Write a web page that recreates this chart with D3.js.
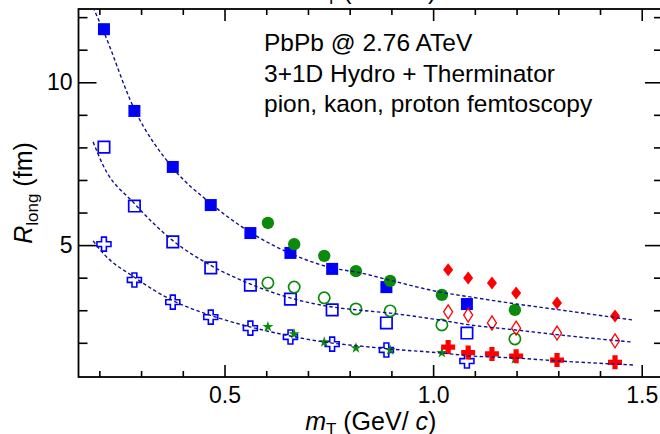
<!DOCTYPE html>
<html>
<head>
<meta charset="utf-8">
<script src="https://cdn.jsdelivr.net/npm/d3@7"></script>
<style>
  body { margin: 0; background: #fff; }
  svg { display: block; font-family: "Liberation Sans", Arial, Helvetica, sans-serif; }
</style>
</head>
<body>
<div id="graph"></div>
<script>
// Chart values
var pionMt = [0.211, 0.284, 0.376, 0.467, 0.562, 0.658, 0.758, 0.888, 1.081];
var pionHigh = [11.63, 9.12, 7.40, 6.23, 5.37, 4.76, 4.27, 3.71, 3.19];
var pionMid = [8.01, 6.20, 5.10, 4.30, 3.77, 3.34, 3.01, 2.61, 2.30];
var pionLow = [5.03, 3.93, 3.25, 2.79, 2.45, 2.18, 1.96, 1.78, 1.44];

var kaonMt = [0.604, 0.667, 0.739, 0.815, 0.897, 1.021, 1.196];
var kaonHigh = [5.68, 5.03, 4.67, 4.20, 3.90, 3.47, 3.01];
var kaonMid = [3.84, 3.71, 3.38, 3.04, 2.98, 2.55, 2.12];
var kaonLow = [2.49, 2.27, 2.02, 1.84, 1.78, 1.69, 1.50];

var protonMt = [1.036, 1.084, 1.141, 1.199, 1.297, 1.436];
var protonHigh = [4.24, 3.99, 3.84, 3.53, 3.22, 2.82];
var protonMid = [2.95, 2.85, 2.61, 2.45, 2.30, 2.06];
var protonLow = [1.87, 1.70, 1.66, 1.59, 1.47, 1.40];

// dashed fit curves
var fitMt = [0.185, 0.209, 0.283, 0.374, 0.465, 0.561, 0.657, 0.758, 0.825, 0.897, 1.016, 1.088, 1.201, 1.304, 1.479];
var fitHigh = [12.3, 11.6, 9.2, 7.4, 6.3, 5.4, 4.75, 4.3, 4.15, 3.92, 3.56, 3.41, 3.19, 3.01, 2.70];
var fitMid = [8.17, 7.45, 6.29, 5.16, 4.39, 3.81, 3.38, 3.10, 3.0, 2.91, 2.70, 2.55, 2.39, 2.24, 2.02];
var fitLow = [5.13, 4.75, 4.02, 3.31, 2.85, 2.49, 2.21, 1.99, 1.90, 1.81, 1.69, 1.60, 1.53, 1.44, 1.32];

var xMajor = [0.5, 1, 1.5];
var xMinor = [0.2, 0.3, 0.4, 0.6, 0.7, 0.8, 0.9, 1.1, 1.2, 1.3, 1.4];
var yMajor = [5, 10];
var yMinor = [2, 3, 4, 6, 7, 8, 9, 11, 12];

var infoLines = ["PbPb @ 2.76 ATeV", "3+1D Hydro + Therminator", "pion, kaon, proton femtoscopy"];

var width = 660, height = 434;
var frameL = 78.5, frameR = 663, frameT = 9, frameB = 377;

var blue = "#0000ff", green = "#0b8a0b", red = "#ff0000", navy = "#101090";

var svg = d3.select("#graph").append("svg")
  .attr("width", width)
  .attr("height", height);

var xScale = d3.scaleLinear().domain([0.15, 1.551]).range([frameL, frameR]);
var yScale = d3.scaleLinear().domain([0.95, 12.25]).range([frameB, frameT]);

svg.append("clipPath").attr("id", "plotclip")
  .append("rect")
  .attr("x", frameL).attr("y", frameT)
  .attr("width", frameR - frameL).attr("height", frameB - frameT);

// axes (ticks point inwards, ROOT style)
function styleAxis(g) {
  g.select(".domain").remove();
  g.selectAll("line").attr("stroke", "#000").attr("stroke-width", 1.6);
  g.selectAll("text").attr("fill", "#000").style("font-size", "23px")
    .style("font-family", "'Liberation Sans', Arial, sans-serif");
}

svg.append("g").attr("transform", "translate(0," + frameB + ")")
  .call(d3.axisBottom(xScale).tickValues(xMinor).tickSize(-6).tickFormat(""))
  .call(styleAxis);
var xAx = svg.append("g").attr("transform", "translate(0," + frameB + ")")
  .call(d3.axisBottom(xScale).tickValues(xMajor).tickSize(-12).tickPadding(10))
  .call(styleAxis);
xAx.selectAll("text").attr("dy", "0.71em");

svg.append("g").attr("transform", "translate(0," + frameT + ")")
  .call(d3.axisTop(xScale).tickValues(xMinor).tickSize(-6).tickFormat(""))
  .call(styleAxis);
svg.append("g").attr("transform", "translate(0," + frameT + ")")
  .call(d3.axisTop(xScale).tickValues(xMajor).tickSize(-12).tickFormat(""))
  .call(styleAxis);

svg.append("g").attr("transform", "translate(" + frameL + ",0)")
  .call(d3.axisLeft(yScale).tickValues(yMinor).tickSize(-9).tickFormat(""))
  .call(styleAxis);
svg.append("g").attr("transform", "translate(" + frameL + ",0)")
  .call(d3.axisLeft(yScale).tickValues(yMajor).tickSize(-18).tickPadding(6))
  .call(styleAxis);

svg.append("g").attr("transform", "translate(" + frameR + ",0)")
  .call(d3.axisRight(yScale).tickValues(yMinor).tickSize(-9).tickFormat(""))
  .call(styleAxis);
svg.append("g").attr("transform", "translate(" + frameR + ",0)")
  .call(d3.axisRight(yScale).tickValues(yMajor).tickSize(-18).tickFormat(""))
  .call(styleAxis);

svg.append("rect")
  .attr("x", frameL).attr("y", frameT)
  .attr("width", frameR - frameL).attr("height", frameB - frameT)
  .attr("fill", "none").attr("stroke", "#000").attr("stroke-width", 1.8);

// markers
function crossPath(h, a) {
  return "M" + (-a) + "," + (-h) + "L" + a + "," + (-h) + "L" + a + "," + (-a) +
    "L" + h + "," + (-a) + "L" + h + "," + a + "L" + a + "," + a + "L" + a + "," + h +
    "L" + (-a) + "," + h + "L" + (-a) + "," + a + "L" + (-h) + "," + a +
    "L" + (-h) + "," + (-a) + "L" + (-a) + "," + (-a) + "Z";
}
function diamondPath(w, h) {
  return "M0," + (-h) + "L" + w + ",0L0," + h + "L" + (-w) + ",0Z";
}

var markers = {
  fillSquare: { d: d3.symbol(d3.symbolSquare, 144)(), fill: true },
  openSquare: { d: d3.symbol(d3.symbolSquare, 130)(), fill: false, sw: 1.7 },
  openCross: { d: crossPath(7, 2.4), fill: false, sw: 1.6 },
  fillCircle: { d: d3.symbol(d3.symbolCircle, 120)(), fill: true },
  openCircle: { d: d3.symbol(d3.symbolCircle, 100)(), fill: false, sw: 1.7 },
  star: { d: d3.symbol(d3.symbolStar, 38)(), fill: true },
  fillDiamond: { d: diamondPath(5, 6.5), fill: true },
  openDiamond: { d: diamondPath(4.5, 7), fill: false, sw: 1.3 },
  fillCross: { d: crossPath(7, 2.6), fill: true }
};

var series = [
  { mt: pionMt, r: pionHigh, m: "fillSquare", c: blue },
  { mt: pionMt, r: pionMid, m: "openSquare", c: blue },
  { mt: pionMt, r: pionLow, m: "openCross", c: blue },
  { mt: kaonMt, r: kaonHigh, m: "fillCircle", c: green },
  { mt: kaonMt, r: kaonMid, m: "openCircle", c: green },
  { mt: kaonMt, r: kaonLow, m: "star", c: green },
  { mt: protonMt, r: protonHigh, m: "fillDiamond", c: red },
  { mt: protonMt, r: protonMid, m: "openDiamond", c: red },
  { mt: protonMt, r: protonLow, m: "fillCross", c: red }
];

series.forEach(function(s) {
  var mk = markers[s.m];
  svg.append("g").selectAll("path")
    .data(s.mt.map(function(x, i) { return [x, s.r[i]]; }))
    .enter().append("path")
    .attr("d", mk.d)
    .attr("transform", function(d) { return "translate(" + xScale(d[0]) + "," + yScale(d[1]) + ")"; })
    .attr("fill", mk.fill ? s.c : "none")
    .attr("stroke", mk.fill ? "none" : s.c)
    .attr("stroke-width", mk.sw || 0);
});

// fit lines
var line = d3.line()
  .x(function(d) { return xScale(d[0]); })
  .y(function(d) { return yScale(d[1]); })
  .curve(d3.curveMonotoneX);

[fitHigh, fitMid, fitLow].forEach(function(f) {
  svg.append("path")
    .datum(fitMt.map(function(x, i) { return [x, f[i]]; }))
    .attr("clip-path", "url(#plotclip)")
    .attr("fill", "none")
    .attr("stroke", navy)
    .attr("stroke-width", 1.4)
    .attr("stroke-dasharray", "3.5,2.5")
    .attr("d", line);
});

// info text
svg.append("g").selectAll("text")
  .data(infoLines)
  .enter().append("text")
  .attr("x", 264)
  .attr("y", function(d, i) { return 51 + i * 30.5; })
  .style("font-size", "24.5px")
  .attr("fill", "#000")
  .text(function(d) { return d; });

// axis titles
function xTitle(yPos) {
  var t = svg.append("text")
    .attr("x", (frameL + frameR) / 2)
    .attr("y", yPos)
    .attr("text-anchor", "middle")
    .style("font-size", "25px")
    .attr("fill", "#000");
  t.append("tspan").style("font-style", "italic").text("m");
  t.append("tspan").attr("dy", 5).style("font-size", "17px").text("T");
  t.append("tspan").attr("dy", -5).text(" (GeV/ ");
  t.append("tspan").style("font-style", "italic").text("c");
  t.append("tspan").text(")");
}
xTitle(430);
xTitle(-1); // title of the panel above, cut by the figure edge

var yt = svg.append("text")
  .attr("transform", "translate(32," + ((frameT + frameB) / 2) + ") rotate(-90)")
  .attr("text-anchor", "middle")
  .style("font-size", "25px")
  .attr("fill", "#000");
yt.append("tspan").style("font-style", "italic").text("R");
yt.append("tspan").attr("dy", 6).style("font-size", "17px").text("long");
yt.append("tspan").attr("dy", -6).text(" (fm)");
</script>
</body>
</html>
